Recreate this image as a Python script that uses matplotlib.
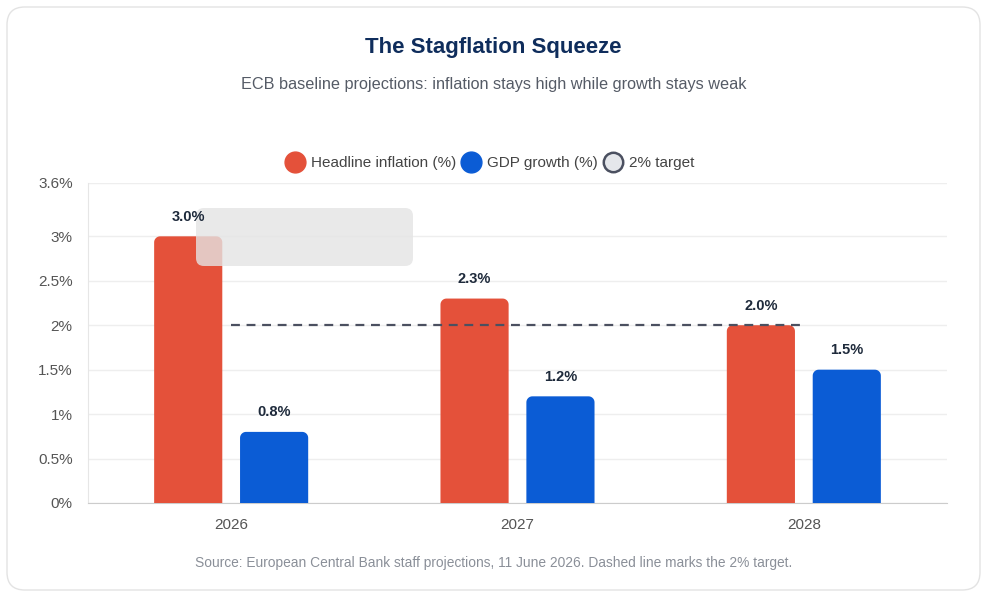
import matplotlib.pyplot as plt
import numpy as np
from matplotlib.patches import FancyBboxPatch, Polygon
from matplotlib.lines import Line2D

plt.rcParams['font.family'] = ['Liberation Sans', 'DejaVu Sans']

years = ['2026', '2027', '2028']
inflation = [3.0, 2.3, 2.0]
gdp_growth = [0.8, 1.2, 1.5]
target = 2.0
y_ticks = [0, 0.5, 1, 1.5, 2, 2.5, 3, 3.6]
y_tick_labels = ['0%', '0.5%', '1%', '1.5%', '2%', '2.5%', '3%', '3.6%']

RED = '#e4513a'
BLUE = '#0b5cd5'
NAVY = '#0f2d5c'

fig = plt.figure(figsize=(9.87, 5.97), dpi=100)
fig.patch.set_facecolor('white')
W, H = 987, 597

# card outline
card = FancyBboxPatch((7 / W, 7 / H), 973 / W, 583 / H,
                      boxstyle='round,pad=0,rounding_size=0.018',
                      transform=fig.transFigure, facecolor='none',
                      edgecolor='#e3e3e3', linewidth=1.0, mutation_aspect=W / H,
                      zorder=-1)
fig.patches.append(card)

ax = fig.add_axes([88 / W, 1 - 503 / H, (947 - 88) / W, (503 - 183) / H])
ax.set_facecolor('none')
ax.set_xlim(-0.5, 2.5)
ax.set_ylim(0, 3.6)

x = np.arange(len(years))
bar_w = 0.238
off = 0.15

# px per data unit, used to keep the corner radius round on screen
px_x = (947 - 88) / 3.0
px_y = (503 - 183) / 3.6
rx = 6 / px_x
ry = 6 / px_y


def rounded_bar(xc, h, color):
    l, rgt = xc - bar_w / 2, xc + bar_w / 2
    t = np.linspace(0, np.pi / 2, 12)
    right_arc = np.column_stack([rgt - rx + rx * np.cos(t), h - ry + ry * np.sin(t)])
    left_arc = np.column_stack([l + rx - rx * np.sin(t), h - ry + ry * np.cos(t)])
    pts = np.vstack([[[l, 0], [rgt, 0]], right_arc, left_arc])
    ax.add_patch(Polygon(pts, closed=True, facecolor=color, edgecolor='none', zorder=3))


for i in range(len(years)):
    rounded_bar(x[i] - off, inflation[i], RED)
    rounded_bar(x[i] + off, gdp_growth[i], BLUE)
    ax.text(x[i] - off, inflation[i] + 0.14, f'{inflation[i]:.1f}%', ha='center',
            va='bottom', fontsize=10.5, fontweight='bold', color='#1e2a3b', zorder=6)
    ax.text(x[i] + off, gdp_growth[i] + 0.14, f'{gdp_growth[i]:.1f}%', ha='center',
            va='bottom', fontsize=10.5, fontweight='bold', color='#1e2a3b', zorder=6)

# target line
ax.plot([x[0], x[-1]], [target, target], linestyle=(0, (4, 3)), color='#4b5060',
        linewidth=1.6, zorder=4)

ax.set_yticks(y_ticks)
ax.set_yticklabels(y_tick_labels)
ax.set_xticks(x)
ax.set_xticklabels(years)
ax.tick_params(axis='both', length=0, labelsize=11, labelcolor='#555555')
ax.tick_params(axis='y', pad=11)
ax.tick_params(axis='x', pad=11)
ax.grid(axis='y', color='#eeeeee', linewidth=1, zorder=0)
for s in ['top', 'right']:
    ax.spines[s].set_visible(False)
ax.spines['left'].set_color('#e6e6e6')
ax.spines['bottom'].set_color('#cccccc')

# empty hover tooltip seen in the reference
tip = FancyBboxPatch((196 / W, 1 - 266 / H), (413 - 196) / W, (266 - 208) / H,
                     boxstyle='round,pad=0,rounding_size=0.008',
                     transform=fig.transFigure, facecolor='#e4e4e4', alpha=0.8,
                     edgecolor='none', mutation_aspect=W / H, zorder=5, clip_on=False)
ax.add_patch(tip)

fig.text(0.5, 1 - 47 / H, 'The Stagflation Squeeze', ha='center', va='center',
         fontsize=16, fontweight='bold', color=NAVY)
fig.text(0.5, 1 - 85 / H, 'ECB baseline projections: inflation stays high while growth stays weak',
         ha='center', va='center', fontsize=11.7, color='#555b66')
fig.text(0.5, 1 - 563 / H,
         'Source: European Central Bank staff projections, 11 June 2026. Dashed line marks the 2% target.',
         ha='center', va='center', fontsize=9.9, color='#8a8f98')

handles = [
    Line2D([], [], marker='o', linestyle='none', markersize=15, markerfacecolor=RED,
           markeredgecolor=RED, label='Headline inflation (%)'),
    Line2D([], [], marker='o', linestyle='none', markersize=15, markerfacecolor=BLUE,
           markeredgecolor=BLUE, label='GDP growth (%)'),
    Line2D([], [], marker='o', linestyle='none', markersize=14, markerfacecolor='#e5e7eb',
           markeredgecolor='#4b5060', markeredgewidth=1.8, label='2% target'),
]
fig.legend(handles=handles, loc='center', bbox_to_anchor=(490 / W, 1 - 163 / H), ncol=3,
           frameon=False, fontsize=11, handletextpad=0.45, columnspacing=0.4,
           handlelength=1.2, labelcolor='#444444')

fig.savefig('out.png', dpi=100)
